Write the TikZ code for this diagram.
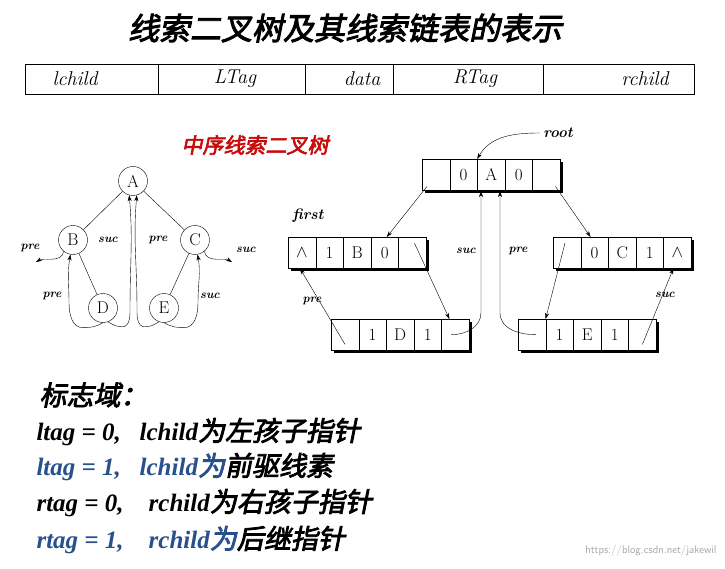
\documentclass[tikz,border=0pt]{standalone}
\usepackage{fontspec}
\newfontfamily\cjk[AutoFakeBold=3,AutoFakeSlant=0.2]{Noto Sans CJK SC}
\newfontfamily\tms{Liberation Serif}
\usetikzlibrary{arrows.meta}
\definecolor{tblue}{RGB}{40,80,140}
\definecolor{tred}{RGB}{200,10,10}
\newcommand{\cj}{\cjk\fontsize{27}{28}\selectfont}
\tikzset{
 tn/.style={circle,draw,inner sep=0pt,minimum size=29pt,font=\fontsize{17}{17}\selectfont},
 cell/.style={draw,minimum width=27.6pt,minimum height=31pt,inner sep=0pt,font=\fontsize{17}{17}\selectfont},
 lab/.style={font=\fontsize{12}{12}\selectfont\itshape\bfseries},
 arr/.style={-{Stealth[length=6pt,width=4pt]},thin},
 hd/.style={font=\fontsize{20}{20}\selectfont\itshape},
 big/.style={anchor=west,font=\fontsize{25}{28}\selectfont\tms\bfseries\itshape}
}
\begin{document}
\begin{tikzpicture}[x=1pt,y=-1pt]
\useasboundingbox (0,0) rectangle (725,569);
\node (title) at (345,28) {\cjk\fontsize{31}{32}\selectfont\bfseries\itshape 线索二叉树及其线索链表的表示};
% header table
\draw[thick] (25,64) rectangle (694,94);
\foreach \x in {158,305,393,543} \draw[thick] (\x,64)--(\x,94);
\node[hd] (h1) at (75,79) {lchild};
\node[hd] (h2) at (235,79) {LTag};
\node[hd] (h3) at (362,79) {data};
\node[hd] (h4) at (475,79) {RTag};
\node[hd] (h5) at (645,79) {rchild};
\node (red) at (255,145) {\cjk\color{tred}\fontsize{21}{22}\selectfont\bfseries\itshape 中序线索二叉树};
% tree
\node[tn] (A) at (133,181) {A};
\node[tn] (B) at (73,240) {B};
\node[tn] (C) at (195,240) {C};
\node[tn] (D) at (103,308) {D};
\node[tn] (E) at (164,308) {E};
\draw (A)--(B) (A)--(C) (B)--(D) (C)--(E);
\coordinate (bp) at (36,262);
\coordinate (cs) at (232,262);
\draw[arr] (B.-130) to[out=-90,in=0] ++(-12,8) to[out=180,in=30] (bp);
\node[lab] (lbp) at (30,248) {pre};
\draw[arr] (C.-50) to[out=-90,in=180] ++(12,8) to[out=0,in=150] (cs);
\node[lab] (lcs) at (246,250) {suc};
\draw[arr] (D.-90) to[out=-150,in=0] ++(-20,5) to[out=180,in=-90] ++(-14,-25) to[out=90,in=-100] (B.-100);
\node[lab] (ldp) at (52,296) {pre};
\draw[arr] (D.-70) to[out=-30,in=180] ++(14,5) to[out=0,in=-90] ++(8,-20) to[out=90,in=-85] (A.-105);
\node[lab] (lds) at (108,240) {suc};
\draw[arr] (E.-110) to[out=-150,in=0] ++(-14,5) to[out=180,in=-90] ++(-8,-20) to[out=90,in=-95] (A.-75);
\node[lab] (lep) at (158,240) {pre};
\draw[arr] (E.-90) to[out=-30,in=180] ++(20,5) to[out=0,in=-90] ++(14,-25) to[out=90,in=-80] (C.-80);
\node[lab] (les) at (210,296) {suc};
% lists
\foreach \nm/\x/\y/\a/\b/\c/\d/\e in {a/422/159/{}/0/A/0/{},b/288/237/$\wedge$/1/B/0/{},c/553/237/{}/0/C/1/$\wedge$,d/331/319/{}/1/D/1/{},e/518/319/{}/1/E/1/{}}{
 \fill (\x+3,\y+3) rectangle (\x+141,\y+34);
 \fill[white] (\x,\y) rectangle (\x+138,\y+31);
 \foreach \i/\t in {1/\a,2/\b,3/\c,4/\d,5/\e}
  \node[cell,anchor=north west] (\nm\i) at (\x+27.6*\i-27.6,\y) {\t};
}
\node[lab,font=\fontsize{15}{15}\selectfont\itshape\bfseries] (first) at (308,216) {first};
\node[lab,font=\fontsize{15}{15}\selectfont\itshape\bfseries] (root) at (558,133) {root};
\draw[arr] (root.west) to[out=180,in=60] (a3.north west);
\draw[arr] ([shift={(5pt,4pt)}]a1.south west) -- ([xshift=2pt]b4.north);
\draw[arr] ([shift={(-5pt,4pt)}]a5.south east) -- ([xshift=-4pt]c2.north);
\draw[arr] ([shift={(-12pt,-6pt)}]b5.north east) -- ([xshift=-6pt]d5.north);
\draw[arr] ([shift={(14pt,6pt)}]d1.south west) -- ([xshift=-2pt]b1.south);
\draw[arr] ([shift={(12pt,-6pt)}]c1.north west) -- (e2.north west);
\draw[arr] ([shift={(-14pt,6pt)}]e5.south east) -- ([xshift=-4pt]c5.south);
\coordinate (ta) at (481,191);
\coordinate (tb) at (500,191);
\draw[arr] ([xshift=-4pt]d5.center) to[out=0,in=-90] ([yshift=22pt]ta |- d5.center) -- (ta);
\draw[arr] ([xshift=4pt]e1.center) to[out=180,in=-90] ([yshift=22pt]tb |- e1.center) -- (tb);
\node[lab] (ls1) at (466,251) {suc};
\node[lab] (lp1) at (518,251) {pre};
\node[lab] (lp2) at (312,301) {pre};
\node[lab] (ls2) at (665,295) {suc};
% text
\node[big] (t0) at (36,395) {\cj 标志域：};
\node[big] (t1) at (33,432) {ltag = 0,\ \ \ lchild\cj 为左孩子指针};
\node[big] (t2) at (33,467) {\color{tblue}ltag = 1,\ \ \ lchild\cj 为\color{black}前驱线素};
\node[big] (t3) at (33,503) {rtag = 0,\ \ \ \ rchild\cj 为右孩子指针};
\node[big] (t4) at (33,540) {\color{tblue}rtag = 1,\ \ \ \ rchild\cj 为\color{black}后继指针};
\node[anchor=east,text=gray!70,font=\fontsize{11}{11}\selectfont\sffamily] (wm) at (720,551) {https://blog.csdn.net/jakewil};
\end{tikzpicture}
\end{document}
